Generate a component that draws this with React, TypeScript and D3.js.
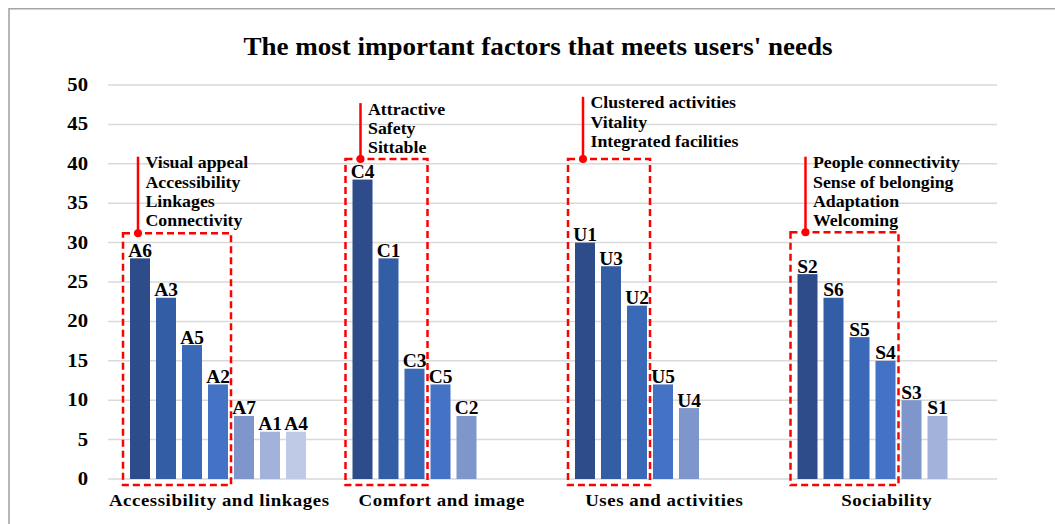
import React from "react";
import * as d3 from "d3";

const title = "The most important factors that meets users' needs";
const categories = ["Accessibility and linkages", "Comfort and image", "Uses and activities", "Sociability"];

const accessLabels = ["A6", "A3", "A5", "A2", "A7", "A1", "A4"];
const accessValues = [28, 23, 17, 12, 8, 6, 6];
const comfortLabels = ["C4", "C1", "C3", "C5", "C2"];
const comfortValues = [38, 28, 14, 12, 8];
const usesLabels = ["U1", "U3", "U2", "U5", "U4"];
const usesValues = [30, 27, 22, 12, 9];
const socialLabels = ["S2", "S6", "S5", "S4", "S3", "S1"];
const socialValues = [26, 23, 18, 15, 10, 8];

const yTicks = [0, 5, 10, 15, 20, 25, 30, 35, 40, 45, 50];

// highlighted top factors per category
const highlightCounts = [4, 3, 3, 4];
const highlightTop = [31.2, 40.6, 40.6, 31.3];
const arrowTop = [40.9, 47.7, 48.5, 40.9];
const accessNotes = ["Visual appeal", "Accessibility", "Linkages", "Connectivity"];
const comfortNotes = ["Attractive", "Safety", "Sittable"];
const usesNotes = ["Clustered activities", "Vitality", "Integrated facilities"];
const socialNotes = ["People connectivity", "Sense of belonging", "Adaptation", "Welcoming"];

const groups = [
  { labels: accessLabels, values: accessValues, notes: accessNotes },
  { labels: comfortLabels, values: comfortValues, notes: comfortNotes },
  { labels: usesLabels, values: usesValues, notes: usesNotes },
  { labels: socialLabels, values: socialValues, notes: socialNotes },
];

const palette = ["#2E4C89", "#335EA5", "#3A69B8", "#4472C4", "#7F96CD", "#A2B2DB", "#BFCBE6"];

const W = 1055;
const H = 524;
const FONT = "'Liberation Serif', 'Times New Roman', serif";

function SText({ x, y, sx = 1.2, anchor = "start", size = 16, children, ls = 0 }: any) {
  return (
    <text
      transform={`translate(${x},${y}) scale(${sx},1)`}
      textAnchor={anchor}
      fontFamily={FONT}
      fontWeight="bold"
      fontSize={size}
      letterSpacing={ls}
      fill="#000"
    >
      {children}
    </text>
  );
}

export default function App() {
  const x0 = d3.scaleBand<string>().domain(categories).range([108, 998]);
  const x1 = d3
    .scaleBand<number>()
    .domain(d3.range(7))
    .range([19, 201])
    .paddingInner(6 / 26)
    .paddingOuter(3 / 26);
  const y = d3.scaleLinear().domain([0, 50]).range([479, 85]);

  return (
    <svg width={W} height={H} style={{ position: "absolute", left: 0, top: 0, background: "#fff" }}>
      <rect x={0} y={0} width={W} height={H} fill="#fff" />
      {/* outer frame */}
      <path d={`M9,${H} V8.7 H${W}`} fill="none" stroke="#A6A6A6" strokeWidth={1.6} />

      {/* title */}
      <text
        x={538}
        y={55}
        textAnchor="middle"
        fontFamily={FONT}
        fontWeight="bold"
        fontSize={25}
        textLength={589}
        lengthAdjust="spacingAndGlyphs"
      >
        {title}
      </text>

      {/* gridlines */}
      {yTicks.map((t) => (
        <line key={t} x1={108} x2={997} y1={y(t)} y2={y(t)} stroke="#D9D9D9" strokeWidth={1.5} />
      ))}
      {/* y tick labels */}
      {yTicks.map((t) => (
        <SText key={"l" + t} x={88} y={y(t) + 6} anchor="end" sx={1.15} size={18}>
          {t}
        </SText>
      ))}

      {/* bars */}
      {groups.map((g, gi) => {
        const gx = x0(categories[gi])!;
        return (
          <g key={gi}>
            {g.values.map((v, i) => {
              const bx = gx + x1(i)!;
              return (
                <g key={i}>
                  <rect x={bx} y={y(v)} width={x1.bandwidth()} height={y(0) - y(v)} fill={palette[i]} />
                  <SText x={bx + x1.bandwidth() / 2} y={y(v) - 1.5} anchor="middle" sx={1.08} size={18}>
                    {g.labels[i]}
                  </SText>
                </g>
              );
            })}
            <SText x={gx + x0.bandwidth() / 2} y={506} anchor="middle" sx={1.11} size={17} ls={0.5}>
              {categories[gi]}
            </SText>
          </g>
        );
      })}

      {/* highlight boxes and notes */}
      {groups.map((g, gi) => {
        const gx = x0(categories[gi])!;
        const left = gx + x1(0)! - 7;
        const right = gx + x1(highlightCounts[gi] - 1)! + x1.bandwidth() + 3;
        const top = y(highlightTop[gi]);
        const bottom = y(0) + 6;
        const ax = left + 15;
        const aTop = y(arrowTop[gi]);
        return (
          <g key={"h" + gi}>
            <rect
              x={left}
              y={top}
              width={right - left}
              height={bottom - top}
              fill="none"
              stroke="#FF0000"
              strokeWidth={2.5}
              strokeDasharray="7,4"
            />
            <line x1={ax} x2={ax} y1={aTop} y2={top} stroke="#FF0000" strokeWidth={2.5} />
            <circle cx={ax} cy={top} r={4} fill="#FF0000" />
            {g.notes.map((n, ni) => (
              <SText key={ni} x={ax + 7.5} y={aTop + 11.5 + ni * 19.3} sx={1.08} size={16.5}>
                {n}
              </SText>
            ))}
          </g>
        );
      })}
    </svg>
  );
}
